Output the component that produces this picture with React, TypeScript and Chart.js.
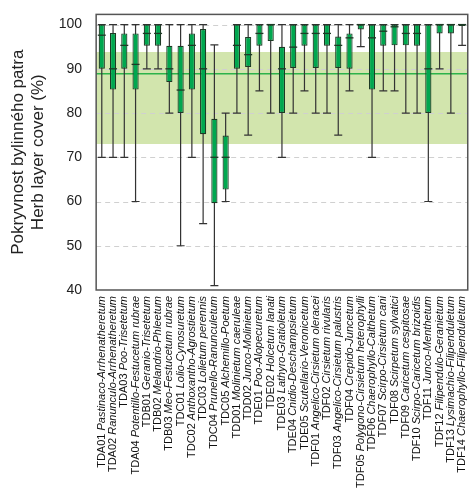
import { useEffect, useRef } from 'react';
import { Chart, registerables } from 'chart.js';

Chart.register(...registerables);

const codes = ['TDA01','TDA02','TDA03','TDA04','TDB01','TDB02','TDB03','TDC01','TDC02','TDC03','TDC04','TDC05','TDD01','TDD02','TDE01','TDE02','TDE03','TDE04','TDE05','TDF01','TDF02','TDF03','TDF04','TDF05','TDF06','TDF07','TDF08','TDF09','TDF10','TDF11','TDF12','TDF13','TDF14'];
const names = ['Pastinaco-Arrhenatheretum','Ranunculo-Arrhenatheretum','Poo-Trisetetum','Potentillo-Festucetum rubrae','Geranio-Trisetetum','Melandrio-Phleetum','Meo-Festucetum rubrae','Lolio-Cynosuretum','Anthoxantho-Agrostietum','Lolietum perennis','Prunello-Ranunculetum','Alchemillo-Poetum','Molinietum caeruleae','Junco-Molinietum','Poo-Alopecuretum','Holcetum lanati','Lathyro-Gratioletum','Cnidio-Deschampsietum','Scutellario-Veronicetum','Angelico-Cirsietum oleracei','Cirsietum rivularis','Angelico-Cirsietum palustris','Crepido-Juncetum','Polygono-Cirsietum heterophylli','Chaerophyllo-Calthetum','Scirpo-Cirsietum cani','Scirpetum sylvatici','Caricetum cespitosae','Scirpo-Caricetum brizoidis','Junco-Menthetum','Filipendulo-Geranietum','Lysimachio-Filipenduletum','Chaerophyllo-Filipenduletum'];
const whiskerLow = [70,70,70,60,90,90,80,50,70,55,41,60,80,75,85,80,70,80,85,80,80,75,85,95,70,85,85,80,80,60,90,80,95.3];
const q1 = [90,85.3,90,85.3,95.2,95.2,87,80,85.3,75.2,59.6,62.7,90,90.4,95.2,96.3,80,90.2,95.2,90.2,95.2,90.2,90,98.9,85.3,95.2,95.3,95.3,95.2,80,98,98,99.7];
const median = [97.6,90,95.3,91,98,98,90,85.2,95.3,90,70,70,95.3,93.2,98,100,90,94.9,98,98,98,95.3,97,100,97,98.5,99.5,98,98,90,100,100,100];
const q3 = [100,98.1,98,98,100,100,95.2,95.2,98,99,78.7,74.9,100,97.2,100,100,95,100,100,100,100,97.3,98,100,100,100,100,100,100,100,100,100,100];
const whiskerHigh = [100,100,100,100,100,100,100,100,100,100,95.4,80,100,100,100,100,100,100,100,100,100,100,100,100,100,100,100,100,100,100,100,100,100];
const bandLow = 73;
const bandHigh = 93.8;
const refLine = 88.9;

const labelFont = 11;

export default function App() {
  const canvasRef = useRef<HTMLCanvasElement>(null);
  const chartRef = useRef<Chart | null>(null);

  useEffect(() => {
    document.body.style.margin = '0';
    if (!canvasRef.current) return;
    if (chartRef.current) chartRef.current.destroy();
    const ctx = canvasRef.current.getContext('2d');
    if (!ctx) return;

    const boxPlugin = {
      id: 'boxes',
      beforeDatasetsDraw(chart: any) {
        const { ctx: c, chartArea: a, scales } = chart;
        const y = scales.y;
        c.save();
        c.fillStyle = '#d2e5ad';
        c.fillRect(a.left, y.getPixelForValue(bandHigh), a.right - a.left, y.getPixelForValue(bandLow) - y.getPixelForValue(bandHigh));
        c.strokeStyle = '#d0d0d0';
        c.lineWidth = 1;
        c.setLineDash([5, 4]);
        for (let v = 50; v <= 100; v += 10) {
          const py = Math.round(y.getPixelForValue(v)) + 0.5;
          c.beginPath(); c.moveTo(a.left, py); c.lineTo(a.right, py); c.stroke();
        }
        c.setLineDash([]);
        c.strokeStyle = '#2db34a';
        c.lineWidth = 1.5;
        const ry = y.getPixelForValue(refLine);
        c.beginPath(); c.moveTo(a.left, ry); c.lineTo(a.right, ry); c.stroke();
        // whiskers
        const x = scales.x;
        c.strokeStyle = '#333';
        c.lineWidth = 1.2;
        codes.forEach((_, i) => {
          const px = x.getPixelForValue(i);
          const lo = y.getPixelForValue(whiskerLow[i]);
          const hi = y.getPixelForValue(whiskerHigh[i]);
          c.beginPath();
          c.moveTo(px, lo); c.lineTo(px, hi);
          c.moveTo(px - 4, lo); c.lineTo(px + 4, lo);
          c.moveTo(px - 4, hi); c.lineTo(px + 4, hi);
          c.stroke();
        });
        c.restore();
      },
      afterDatasetsDraw(chart: any) {
        const { ctx: c, chartArea: a, scales } = chart;
        const x = scales.x, y = scales.y;
        c.save();
        c.strokeStyle = '#1d3a25';
        c.lineWidth = 1.3;
        codes.forEach((_, i) => {
          const px = x.getPixelForValue(i);
          const py = y.getPixelForValue(median[i]);
          c.beginPath(); c.moveTo(px - 4, py); c.lineTo(px + 4, py); c.stroke();
        });
        c.strokeStyle = '#555';
        c.lineWidth = 1.5;
        c.strokeRect(a.left, a.top, a.right - a.left, a.bottom - a.top);
        // x labels: code upright, name italic
        c.fillStyle = '#111';
        c.textBaseline = 'middle';
        c.textAlign = 'right';
        codes.forEach((code, i) => {
          const px = x.getPixelForValue(i);
          c.save();
          c.translate(px, a.bottom + 6);
          c.rotate(-Math.PI / 2);
          c.font = `italic ${labelFont}px Arial, "Liberation Sans"`;
          const nw = c.measureText(names[i]).width;
          c.fillText(names[i], 0, 0);
          c.font = `${labelFont}px Arial, "Liberation Sans"`;
          c.fillText(code + ' ', -nw, 0);
          c.restore();
        });
        c.restore();
      },
    };

    chartRef.current = new Chart(ctx, {
      type: 'bar',
      data: {
        labels: codes.map((c, i) => c + ' ' + names[i]),
        datasets: [
          {
            data: codes.map((_, i) => [q1[i], q3[i]]) as any,
            backgroundColor: '#00a74f',
            borderColor: '#1d3a25',
            borderWidth: 1.2,
            borderSkipped: false,
            barPercentage: 0.55,
            categoryPercentage: 1,
          },
        ],
      },
      options: {
        responsive: true,
        maintainAspectRatio: false,
        animation: false,
        layout: { padding: { top: 12, right: 6, left: 4, bottom: 0 } },
        plugins: { legend: { display: false }, tooltip: { enabled: false } },
        scales: {
          x: {
            grid: { display: false },
            border: { display: false },
            afterFit: (s: any) => { s.height = 202; },
            ticks: {
              color: 'rgba(0,0,0,0)',
              autoSkip: false,
              maxRotation: 90,
              minRotation: 90,
              font: { size: 9, family: 'Arial, "Liberation Sans"', style: 'italic' },
            },
          },
          y: {
            min: 40,
            max: 102.3,
            afterBuildTicks: (s: any) => { s.ticks = [40, 50, 60, 70, 80, 90, 100].map((v) => ({ value: v })); },
            grid: { display: false },
            border: { display: false },
            ticks: { color: '#222', font: { size: 14, family: 'Arial, "Liberation Sans"' }, padding: 6 },
            title: {
              display: true,
              text: ['Pokryvnost bylinného patra', 'Herb layer cover (%)'],
              color: '#222',
              font: { size: 17, family: 'Arial, "Liberation Sans"' },
              padding: 4,
            },
          },
        },
      },
      plugins: [boxPlugin],
    });

    return () => {
      if (chartRef.current) {
        chartRef.current.destroy();
        chartRef.current = null;
      }
    };
  }, []);

  return (
    <div style={{ width: 476, height: 492 }}>
      <canvas ref={canvasRef} />
    </div>
  );
}
